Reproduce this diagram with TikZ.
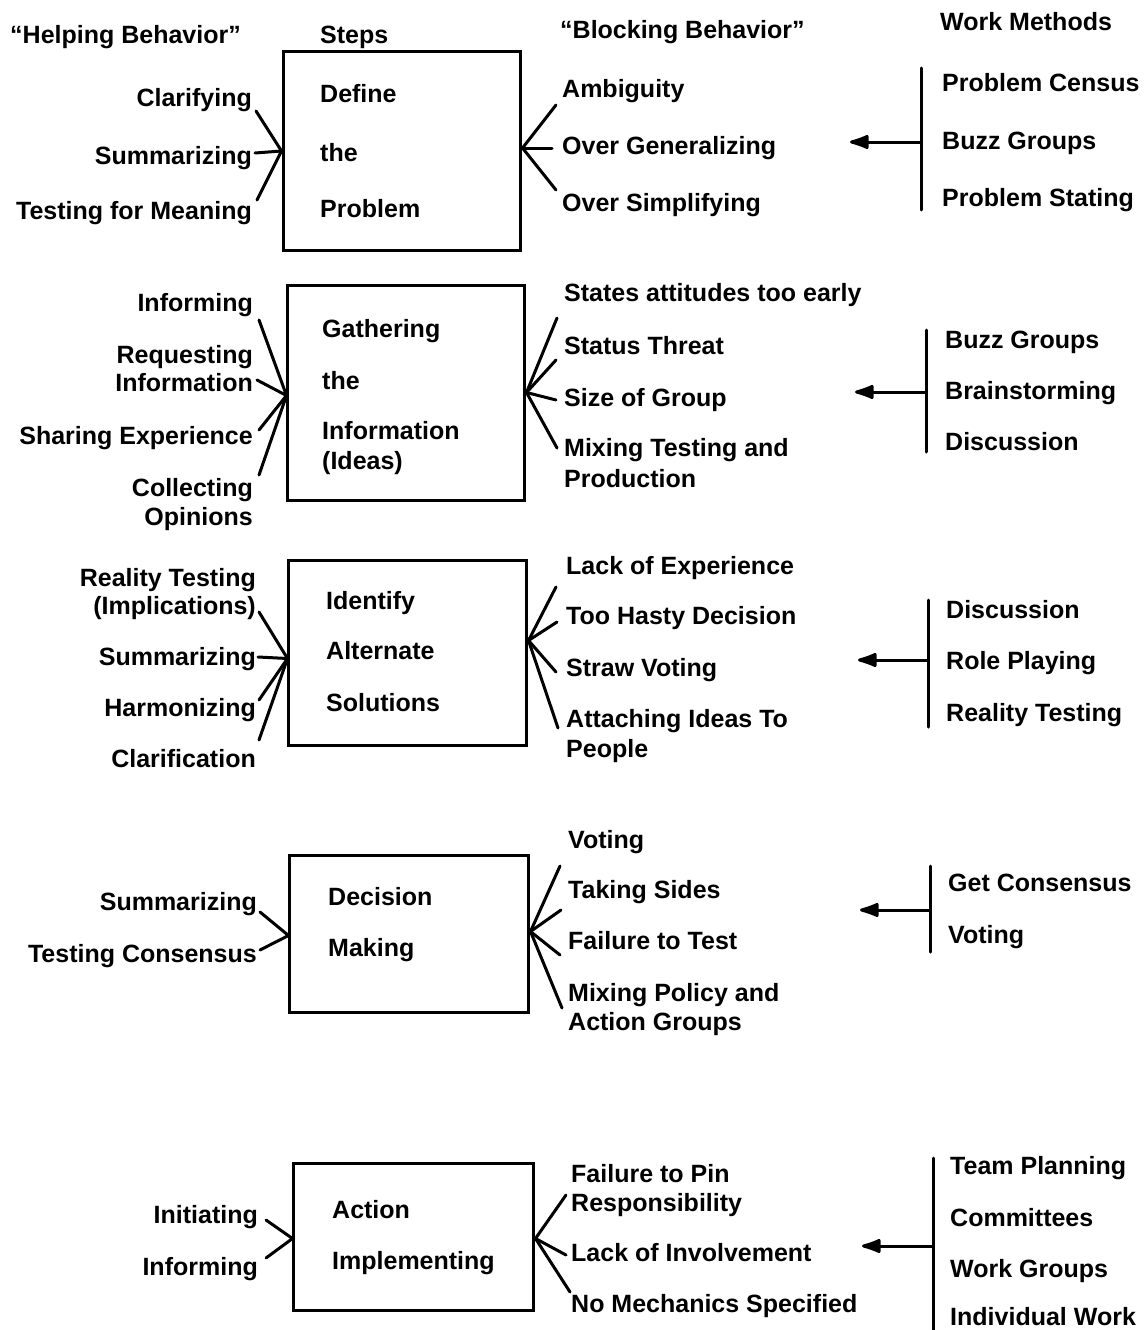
\documentclass[tikz,border=0pt]{standalone}
\usepackage{fontspec}
\setmainfont{Liberation Sans}
\usetikzlibrary{arrows.meta,calc}
\tikzset{
  lbl/.style={font=\fontsize{25}{29}\selectfont\bfseries, inner sep=0pt, text height=18pt, text depth=0pt},
  lw/.style={lbl, anchor=west},
  le/.style={lbl, anchor=east},
  stepbox/.style={draw, line width=3pt, inner sep=0pt},
  spoke/.style={line width=3pt, line cap=round},
  barline/.style={line width=3pt, line cap=round},
  wmarrow/.style={line width=3pt, -{Latex[length=24pt,width=16pt,round]}}
}
\begin{document}
\begin{tikzpicture}[x=1pt,y=-1pt]
\useasboundingbox (0,0) rectangle (1146,1330);

% headers
\node[lw] (hHelp) at (10,35) {``Helping Behavior''};
\node[lw] (hSteps) at (320,35) {Steps};
\node[lw] (hBlock) at (560,30) {``Blocking Behavior''};
\node[lw] (hWork) at (940,22) {Work Methods};

% ---------------- Step 1
\node[stepbox, minimum width=237pt, minimum height=198pt] (s1) at (401.5,151) {};
\node[lw] (s1a) at (320,93) {Define};
\node[lw] (s1b) at (320,152) {the};
\node[lw] (s1c) at (320,208) {Problem};
\node[le] (h1a) at (252,97) {Clarifying};
\node[le] (h1b) at (252,155) {Summarizing};
\node[le] (h1c) at (252,210) {Testing for Meaning};
\coordinate (h1ae) at (256,111);
\coordinate (h1be) at (255,153);
\coordinate (h1ce) at (257,200);
\draw[spoke] (h1ae) -- (s1.west);
\draw[spoke] (h1be) -- (s1.west);
\draw[spoke] (h1ce) -- (s1.west);
\node[lw] (b1a) at (562,88) {Ambiguity};
\node[lw] (b1b) at (562,145) {Over Generalizing};
\node[lw] (b1c) at (562,202) {Over Simplifying};
\coordinate (s1r) at ($(s1.east)+(1,-3)$);
\coordinate (b1ae) at (556,105);
\coordinate (b1be) at (552,148);
\coordinate (b1ce) at (556,190);
\draw[spoke] (s1r) -- (b1ae);
\draw[spoke] (s1r) -- (b1be);
\draw[spoke] (s1r) -- (b1ce);
\coordinate (w1t) at (921,68);
\coordinate (w1b) at (921,210);
\coordinate (w1m) at (921,142);
\coordinate (w1tip) at (850,142);
\draw[barline] (w1t) -- (w1b);
\draw[wmarrow] (w1m) -- (w1tip);
\node[lw] (m1a) at (942,82) {Problem Census};
\node[lw] (m1b) at (942,140) {Buzz Groups};
\node[lw] (m1c) at (942,197) {Problem Stating};

% ---------------- Step 2
\node[stepbox, minimum width=237pt, minimum height=215pt] (s2) at (405.5,392.5) {};
\node[lw] (s2a) at (322,328) {Gathering};
\node[lw] (s2b) at (322,380) {the};
\node[lw] (s2c) at (322,430) {Information};
\node[lw] (s2d) at (322,460) {(Ideas)};
\node[le] (h2a) at (253,302) {Informing};
\node[le] (h2b) at (253,354) {Requesting};
\node[le] (h2b2) at (253,382) {Information};
\node[le] (h2c) at (253,435) {Sharing Experience};
\node[le] (h2d) at (253,487) {Collecting};
\node[le] (h2d2) at (253,516) {Opinions};
\coordinate (s2l) at ($(s2.west)+(1,3)$);
\coordinate (h2ae) at (259,320);
\coordinate (h2be) at (257,380);
\coordinate (h2ce) at (259,430);
\coordinate (h2de) at (259,475);
\draw[spoke] (h2ae) -- (s2l);
\draw[spoke] (h2be) -- (s2l);
\draw[spoke] (h2ce) -- (s2l);
\draw[spoke] (h2de) -- (s2l);
\node[lw] (b2a) at (564,292) {States attitudes too early};
\node[lw] (b2b) at (564,345) {Status Threat};
\node[lw] (b2c) at (564,397) {Size of Group};
\node[lw] (b2d) at (564,447) {Mixing Testing and};
\node[lw] (b2d2) at (564,478) {Production};
\coordinate (s2r) at ($(s2.east)+(1,0)$);
\coordinate (b2ae) at (557,318);
\coordinate (b2be) at (556,360);
\coordinate (b2ce) at (556,400);
\coordinate (b2de) at (557,448);
\draw[spoke] (s2r) -- (b2ae);
\draw[spoke] (s2r) -- (b2be);
\draw[spoke] (s2r) -- (b2ce);
\draw[spoke] (s2r) -- (b2de);
\coordinate (w2t) at (926,330);
\coordinate (w2b) at (926,452);
\coordinate (w2m) at (926,392);
\coordinate (w2tip) at (855,392);
\draw[barline] (w2t) -- (w2b);
\draw[wmarrow] (w2m) -- (w2tip);
\node[lw] (m2a) at (945,339) {Buzz Groups};
\node[lw] (m2b) at (945,390) {Brainstorming};
\node[lw] (m2c) at (945,441) {Discussion};

% ---------------- Step 3
\node[stepbox, minimum width=238pt, minimum height=185pt] (s3) at (407,652.5) {};
\node[lw] (s3a) at (326,600) {Identify};
\node[lw] (s3b) at (326,650) {Alternate};
\node[lw] (s3c) at (326,702) {Solutions};
\node[le] (h3a) at (256,577) {Reality Testing};
\node[le] (h3a2) at (256,605) {(Implications)};
\node[le] (h3b) at (256,656) {Summarizing};
\node[le] (h3c) at (256,707) {Harmonizing};
\node[le] (h3d) at (256,758) {Clarification};
\coordinate (s3l) at ($(s3.west)+(1,6)$);
\coordinate (h3ae) at (259,612);
\coordinate (h3be) at (258,657);
\coordinate (h3ce) at (259,700);
\coordinate (h3de) at (259,740);
\draw[spoke] (h3ae) -- (s3l);
\draw[spoke] (h3be) -- (s3l);
\draw[spoke] (h3ce) -- (s3l);
\draw[spoke] (h3de) -- (s3l);
\node[lw] (b3a) at (566,565) {Lack of Experience};
\node[lw] (b3b) at (566,615) {Too Hasty Decision};
\node[lw] (b3c) at (566,667) {Straw Voting};
\node[lw] (b3d) at (566,718) {Attaching Ideas To};
\node[lw] (b3d2) at (566,748) {People};
\coordinate (s3r) at ($(s3.east)+(1,-12)$);
\coordinate (b3ae) at (556,587);
\coordinate (b3be) at (557,622);
\coordinate (b3ce) at (556,672);
\coordinate (b3de) at (558,728);
\draw[spoke] (s3r) -- (b3ae);
\draw[spoke] (s3r) -- (b3be);
\draw[spoke] (s3r) -- (b3ce);
\draw[spoke] (s3r) -- (b3de);
\coordinate (w3t) at (928,600);
\coordinate (w3b) at (928,727);
\coordinate (w3m) at (928,660);
\coordinate (w3tip) at (858,660);
\draw[barline] (w3t) -- (w3b);
\draw[wmarrow] (w3m) -- (w3tip);
\node[lw] (m3a) at (946,609) {Discussion};
\node[lw] (m3b) at (946,660) {Role Playing};
\node[lw] (m3c) at (946,712) {Reality Testing};

% ---------------- Step 4
\node[stepbox, minimum width=239pt, minimum height=157pt] (s4) at (408.5,933.5) {};
\node[lw] (s4a) at (328,896) {Decision};
\node[lw] (s4b) at (328,947) {Making};
\node[le] (h4a) at (257,901) {Summarizing};
\node[le] (h4b) at (257,953) {Testing Consensus};
\coordinate (s4l) at ($(s4.west)+(1,2)$);
\coordinate (h4ae) at (260,912);
\coordinate (h4be) at (260,950);
\draw[spoke] (h4ae) -- (s4l);
\draw[spoke] (h4be) -- (s4l);
\node[lw] (b4a) at (568,839) {Voting};
\node[lw] (b4b) at (568,889) {Taking Sides};
\node[lw] (b4c) at (568,940) {Failure to Test};
\node[lw] (b4d) at (568,992) {Mixing Policy and};
\node[lw] (b4d2) at (568,1021) {Action Groups};
\coordinate (s4r) at ($(s4.east)+(1,-2)$);
\coordinate (b4ae) at (560,866);
\coordinate (b4be) at (561,910);
\coordinate (b4ce) at (560,955);
\coordinate (b4de) at (562,1008);
\draw[spoke] (s4r) -- (b4ae);
\draw[spoke] (s4r) -- (b4be);
\draw[spoke] (s4r) -- (b4ce);
\draw[spoke] (s4r) -- (b4de);
\coordinate (w4t) at (930,866);
\coordinate (w4b) at (930,952);
\coordinate (w4m) at (930,910);
\coordinate (w4tip) at (860,910);
\draw[barline] (w4t) -- (w4b);
\draw[wmarrow] (w4m) -- (w4tip);
\node[lw] (m4a) at (948,882) {Get Consensus};
\node[lw] (m4b) at (948,934) {Voting};

% ---------------- Step 5
\node[stepbox, minimum width=240pt, minimum height=147pt] (s5) at (413,1236.5) {};
\node[lw] (s5a) at (332,1209) {Action};
\node[lw] (s5b) at (332,1260) {Implementing};
\node[le] (h5a) at (258,1214) {Initiating};
\node[le] (h5b) at (258,1266) {Informing};
\coordinate (s5l) at ($(s5.west)+(1,2)$);
\coordinate (h5ae) at (266,1220);
\coordinate (h5be) at (266,1258);
\draw[spoke] (h5ae) -- (s5l);
\draw[spoke] (h5be) -- (s5l);
\node[lw] (b5a) at (571,1173) {Failure to Pin};
\node[lw] (b5a2) at (571,1202) {Responsibility};
\node[lw] (b5b) at (571,1252) {Lack of Involvement};
\node[lw] (b5c) at (571,1303) {No Mechanics Specified};
\coordinate (s5r) at ($(s5.east)+(1,2)$);
\coordinate (b5ae) at (566,1195);
\coordinate (b5be) at (566,1255);
\coordinate (b5ce) at (570,1292);
\draw[spoke] (s5r) -- (b5ae);
\draw[spoke] (s5r) -- (b5be);
\draw[spoke] (s5r) -- (b5ce);
\coordinate (w5t) at (933,1158);
\coordinate (w5b) at (933,1330);
\coordinate (w5m) at (933,1246);
\coordinate (w5tip) at (862,1246);
\draw[barline] (w5t) -- (w5b);
\draw[wmarrow] (w5m) -- (w5tip);
\node[lw] (m5a) at (950,1165) {Team Planning};
\node[lw] (m5b) at (950,1217) {Committees};
\node[lw] (m5c) at (950,1268) {Work Groups};
\node[lw] (m5d) at (950,1316) {Individual Work};
\end{tikzpicture}
\end{document}
